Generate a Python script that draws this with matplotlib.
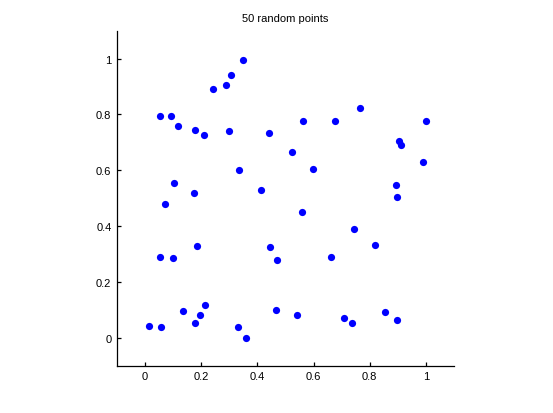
import matplotlib.pyplot as plt

# point coordinates
x = [0.053, 0.092, 0.118, 0.179, 0.211, 0.243, 0.288, 0.307, 0.349, 0.300,
     0.442, 0.563, 0.677, 0.764, 1.000, 0.524, 0.903, 0.911, 0.989, 0.335,
     0.598, 0.104, 0.175, 0.072, 0.413, 0.559, 0.893, 0.897, 0.744, 0.819,
     0.186, 0.054, 0.101, 0.445, 0.470, 0.662, 0.015, 0.058, 0.136, 0.179,
     0.197, 0.214, 0.332, 0.360, 0.467, 0.541, 0.709, 0.737, 0.854, 0.897]
y = [0.796, 0.796, 0.757, 0.743, 0.728, 0.890, 0.904, 0.940, 0.994, 0.739,
     0.732, 0.778, 0.778, 0.822, 0.775, 0.664, 0.704, 0.689, 0.628, 0.600,
     0.603, 0.553, 0.520, 0.481, 0.528, 0.452, 0.546, 0.503, 0.391, 0.334,
     0.330, 0.291, 0.287, 0.327, 0.280, 0.291, 0.044, 0.040, 0.097, 0.054,
     0.080, 0.119, 0.040, 0.001, 0.101, 0.083, 0.072, 0.054, 0.094, 0.065]

xticks = [0, 0.2, 0.4, 0.6, 0.8, 1]
yticks = [0, 0.2, 0.4, 0.6, 0.8, 1]
ticklabels = ['0', '0.2', '0.4', '0.6', '0.8', '1']

plt.rcParams['font.family'] = ['Liberation Sans', 'DejaVu Sans']

fig = plt.figure(figsize=(5.53, 4.14), dpi=100)
ax = fig.add_axes([0.2116, 0.1142, 0.6094, 0.8092])

ax.plot(x, y, 'o', color='#0000ff', markersize=5.2, markeredgewidth=0)

ax.set_xlim(-0.1, 1.1)
ax.set_ylim(-0.1, 1.1)
ax.set_xticks(xticks)
ax.set_xticklabels(ticklabels)
ax.set_yticks(yticks)
ax.set_yticklabels(ticklabels)

ax.spines['top'].set_visible(False)
ax.spines['right'].set_visible(False)
for s in ['left', 'bottom']:
    ax.spines[s].set_linewidth(0.9)
ax.tick_params(direction='in', length=3, width=0.9, labelsize=8, pad=4)

ax.set_title('50 random points', fontsize=8, pad=7)

fig.savefig('out.png', dpi=100)
